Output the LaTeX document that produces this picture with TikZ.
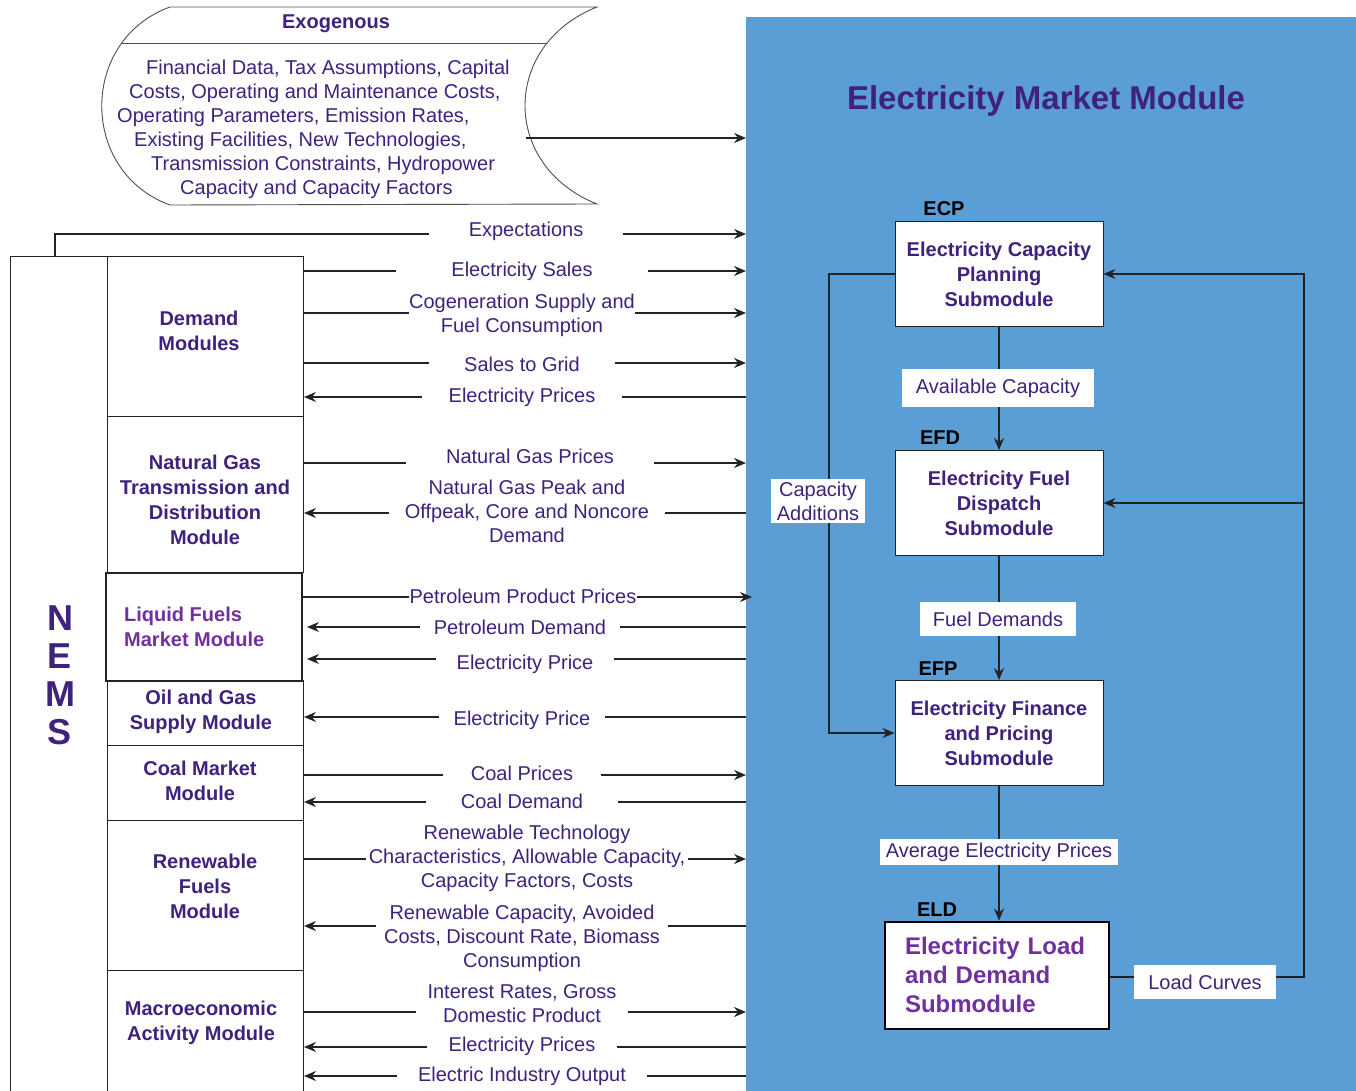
\documentclass[tikz,border=0pt]{standalone}
\usepackage{fontspec}
\setmainfont{Liberation Sans}
\usetikzlibrary{arrows.meta}
\definecolor{txt}{RGB}{62,34,125}
\definecolor{lpur}{RGB}{112,48,160}
\definecolor{emblue}{RGB}{91,157,213}
\definecolor{ln}{RGB}{35,35,35}
\newcommand\mylf{\fontsize{20}{24}\selectfont}
\newcommand\mybf{\bfseries\fontsize{20}{25}\selectfont}
\begin{document}
\begin{tikzpicture}[x=1pt,y=-1pt,
  conn/.style={draw=ln, line width=1.1pt},
  arr/.style={-{Stealth[length=12pt,width=10pt,inset=4pt]}},
  flbl/.style={fill=white, text=txt, font=\mylf, align=center, inner ysep=1pt},
  rlbl/.style={fill=white, text=txt, font=\mylf, align=center, inner xsep=14pt, inner ysep=10pt},
  modbox/.style={draw=ln, line width=1pt, minimum width=196pt, anchor=north west, inner sep=0pt},
  modtxt/.style={text=txt, font=\mybf, align=center, inner sep=0pt},
  sub/.style={draw=ln, fill=white, line width=1pt, minimum width=208pt, minimum height=105pt, align=center, font=\mybf, text=txt, inner sep=0pt},
  tag/.style={font=\bfseries\fontsize{20}{24}\selectfont, text=black, inner sep=0pt}
]
\useasboundingbox (0,0) rectangle (1356,1091);
\fill[white] (0,0) rectangle (1356,1091);

% ---------- blue module area ----------
\node[fill=emblue, draw=none, minimum width=610pt, minimum height=1085pt, anchor=north west, inner sep=0pt] (emm) at (746,17) {};
\node[font=\bfseries\fontsize{33}{40}\selectfont, text=txt] (title) at (1046,101) {Electricity Market Module};

% ---------- exogenous shape ----------
\draw[ln!80, line width=0.9pt] (170,7) -- (597,7)
  .. controls (501,45) and (501,166) .. (597,204)
  -- (170,205)
  .. controls (79,172) and (79,40) .. (170,7);
\begin{scope}
  \clip (170,7) -- (597,7) .. controls (501,45) and (501,166) .. (597,204) -- (170,205) .. controls (79,172) and (79,40) .. (170,7);
  \draw[ln!80, line width=0.9pt] (90,43) -- (600,43);
\end{scope}
\node[font=\mybf, text=txt] (exot) at (336,24) {Exogenous};
\node[anchor=west, align=left, text=txt, font=\mylf, inner sep=0pt] (exob) at (117,129)
  {\hspace*{29pt}Financial Data, Tax Assumptions, Capital\\
   \hspace*{12pt}Costs, Operating and Maintenance Costs,\\
   Operating Parameters, Emission Rates,\\
   \hspace*{17pt}Existing Facilities, New Technologies,\\
   \hspace*{34pt}Transmission Constraints, Hydropower\\
   \hspace*{63pt}Capacity and Capacity Factors};
\coordinate (exo) at (526,138);
\draw[conn,arr] (exo) -- (emm.west |- exo);

% ---------- NEMS column ----------
\node[draw=ln, line width=1pt, minimum width=97pt, minimum height=850pt, anchor=north west, inner sep=0pt] (nems) at (10,256) {};
\node[font=\bfseries\fontsize{36}{38}\selectfont, text=txt, align=center, inner sep=0pt] (nemst) at (60,675) {N\\E\\M\\S};

\node[modbox, minimum height=160pt] (dm) at (107,256) {};
\node[modbox, minimum height=156pt] (ng) at (107,416) {};
\node[modbox, minimum height=65pt] (og) at (107,680) {};
\node[modbox, minimum height=75pt] (cm) at (107,745) {};
\node[modbox, minimum height=150pt] (rf) at (107,820) {};
\node[modbox, minimum height=140pt] (ma) at (107,970) {};
\node[modbox, minimum height=108pt, line width=2pt, fill=white] (lf) at (105,572) {};

\node[modtxt] (dmt) at (199,331) {Demand\\Modules};
\node[modtxt] (ngt) at (205,500) {Natural Gas\\Transmission and\\Distribution\\Module};
\node[modtxt, text=lpur, align=left, anchor=west] (lft) at (124,627) {Liquid Fuels\\Market Module};
\node[modtxt] (ogt) at (201,712) {Oil and Gas\\Supply Module};
\node[modtxt] (cmt) at (200,781) {Coal Market\\Module};
\node[modtxt] (rft) at (205,886) {Renewable\\Fuels\\Module};
\node[modtxt] (mat) at (201,1023) {Macroeconomic\\Activity Module};

% ---------- flows NEMS <-> EMM ----------
\coordinate (exs) at (55,256);
\draw[conn,arr] (exs) |- (emm.west |- 0,234);
\node[flbl, inner xsep=40pt] (f1) at (526,231) {Expectations};

\draw[conn,arr] (dm.east |- 0,271) -- (emm.west |- 0,271);
\node[flbl, inner xsep=55pt] (f2) at (522,271) {Electricity Sales};

\draw[conn,arr] (dm.east |- 0,313) -- (emm.west |- 0,313);
\node[flbl, inner xsep=0pt] (f3) at (522,315) {Cogeneration Supply and\\Fuel Consumption};

\draw[conn,arr] (dm.east |- 0,363) -- (emm.west |- 0,363);
\node[flbl, inner xsep=35pt] (f4) at (522,364) {Sales to Grid};

\draw[conn,arr] (emm.west |- 0,397) -- (dm.east |- 0,397);
\node[flbl, inner xsep=27pt] (f5) at (522,397) {Electricity Prices};

\draw[conn,arr] (ng.east |- 0,463) -- (emm.west |- 0,463);
\node[flbl, inner xsep=40pt, inner ysep=3pt] (f6) at (530,456) {Natural Gas Prices};

\draw[conn,arr] (emm.west |- 0,513) -- (ng.east |- 0,513);
\node[flbl, inner xsep=16pt] (f7) at (527,511) {Natural Gas Peak and\\Offpeak, Core and Noncore\\Demand};

\draw[conn,arr] (lf.east |- 0,597) -- ([xshift=6pt]emm.west |- 0,597);
\node[flbl, inner xsep=1pt] (f8) at (523,596) {Petroleum Product Prices};

\draw[conn,arr] (emm.west |- 0,627) -- ([xshift=4pt]lf.east |- 0,627);
\node[flbl, inner xsep=14pt] (f9) at (520,627) {Petroleum Demand};

\draw[conn,arr] (emm.west |- 0,659) -- ([xshift=4pt]lf.east |- 0,659);
\node[flbl, inner xsep=21pt] (f10) at (525,664) {Electricity Price};

\draw[conn,arr] (emm.west |- 0,717) -- (og.east |- 0,717);
\node[flbl, inner xsep=15pt] (f11) at (522,720) {Electricity Price};

\draw[conn,arr] (cm.east |- 0,775) -- (emm.west |- 0,775);
\node[flbl, inner xsep=28pt] (f12) at (522,773) {Coal Prices};

\draw[conn,arr] (emm.west |- 0,802) -- (cm.east |- 0,802);
\node[flbl, inner xsep=35pt] (f13) at (522,801) {Coal Demand};

\draw[conn,arr] (rf.east |- 0,859) -- (emm.west |- 0,859);
\node[flbl, inner xsep=3pt] (f14) at (527,858) {Renewable Technology\\Characteristics, Allowable Capacity,\\Capacity Factors, Costs};

\draw[conn,arr] (emm.west |- 0,926) -- (rf.east |- 0,926);
\node[flbl, inner xsep=8pt] (f15) at (522,938) {Renewable Capacity, Avoided\\Costs, Discount Rate, Biomass\\Consumption};

\draw[conn,arr] (ma.east |- 0,1012) -- (emm.west |- 0,1012);
\node[flbl, inner xsep=12pt] (f16) at (522,1004) {Interest Rates, Gross\\Domestic Product};

\draw[conn,arr] (emm.west |- 0,1047) -- (ma.east |- 0,1047);
\node[flbl, inner xsep=22pt] (f17) at (522,1046) {Electricity Prices};

\draw[conn,arr] (emm.west |- 0,1076) -- (ma.east |- 0,1076);
\node[flbl, inner xsep=21pt] (f18) at (522,1076) {Electric Industry Output};

% ---------- submodules ----------
\node[sub] (ecp) at (999,274) {Electricity Capacity\\Planning\\Submodule};
\node[sub] (efd) at (999,503) {Electricity Fuel\\Dispatch\\Submodule};
\node[sub] (efp) at (999,733) {Electricity Finance\\and Pricing\\Submodule};
\node[draw=black, fill=white, line width=2pt, minimum width=224pt, minimum height=107pt, inner xsep=20pt, text width=184pt, align=left, text=lpur, font=\bfseries\fontsize{24}{29}\selectfont] (eld) at (997,975) {Electricity Load\\and Demand\\Submodule};

\node[tag] (ecpt) at (944,209) {ECP};
\node[tag] (efdt) at (940,438) {EFD};
\node[tag] (efpt) at (938,669) {EFP};
\node[tag] (eldt) at (937,910) {ELD};

\draw[conn,arr] (ecp.south) -- (efd.north);
\node[rlbl] (avc) at (998,388) {Available Capacity};
\draw[conn,arr] (efd.south) -- (efp.north);
\node[rlbl, inner xsep=13pt] (fud) at (998,619) {Fuel Demands};
\draw[conn,arr] (efp.south) -- (efp.south |- eld.north);
\node[rlbl, inner xsep=6pt, inner ysep=4pt] (aep) at (999,852) {Average Electricity Prices};

\coordinate (lcr) at (1304,977);
\draw[conn,arr] (eld.east |- lcr) -- (lcr) |- (ecp.east);
\draw[conn,arr] (lcr |- efd.east) -- (efd.east);
\node[rlbl, inner xsep=14pt] (lcv) at (1205,982) {Load Curves};

\coordinate (cal) at (829,274);
\draw[conn,arr] (ecp.west) -- (cal) |- (efp.west);
\node[rlbl, inner xsep=6pt, inner ysep=3pt] (cad) at (818,501) {Capacity\\Additions};
\end{tikzpicture}
\end{document}
